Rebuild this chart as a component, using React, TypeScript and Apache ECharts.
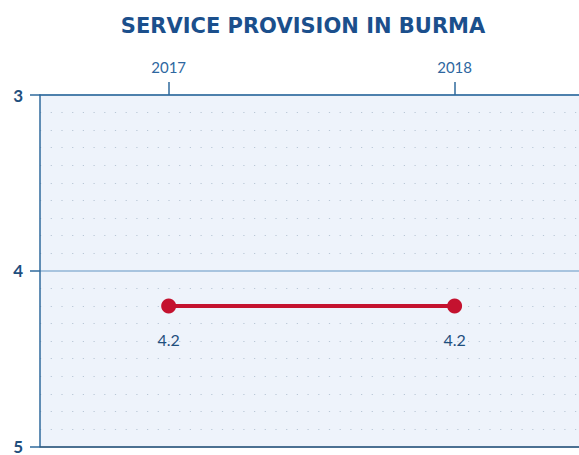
import React, { useEffect, useRef } from "react";
import * as echarts from "echarts";

const years: number[] = [2017, 2018];
const values: number[] = [4.2, 4.2];
const yTicks: number[] = [3, 4, 5];
const title = "SERVICE PROVISION IN BURMA";

const X_MIN = 2016.55;
const X_MAX = 2018.435;

export default function App() {
  const ref = useRef<HTMLDivElement>(null);
  useEffect(() => {
    document.body.style.margin = "0";
    const chart = echarts.init(ref.current!, undefined, { renderer: "svg" });
    chart.setOption({
      animation: false,
      backgroundColor: "#ffffff",
      title: {
        text: title,
        left: 298,
        textAlign: "center",
        top: 10,
        textStyle: { fontFamily: "DejaVu Sans", fontWeight: "bold", fontSize: 21, color: "#1b4f8c" },
      },
      grid: {
        left: 40,
        right: -3,
        top: 95,
        bottom: 5,
        show: true,
        backgroundColor: "#eef3fb",
        borderWidth: 0,
      },
      xAxis: [
        {
          type: "value",
          position: "top",
          min: X_MIN,
          max: X_MAX,
          axisLine: { show: true, lineStyle: { color: "#2f6a9c", width: 1.5 } },
          axisTick: { show: true, customValues: years, length: 13, lineStyle: { color: "#2f6a9c", width: 1.5 } },
          axisLabel: {
            customValues: years,
            formatter: (v: number) => String(Math.round(v)),
            fontFamily: "Lato",
            fontSize: 15,
            color: "#2e67a0",
            margin: 21,
          },
          splitLine: { show: false },
        },
        {
          type: "value",
          position: "bottom",
          min: X_MIN,
          max: X_MAX,
          axisLine: { show: true, lineStyle: { color: "#2c5478", width: 1.5 } },
          axisTick: { show: false },
          axisLabel: { show: false },
          splitLine: { show: false },
        },
      ],
      yAxis: {
        type: "value",
        inverse: true,
        min: yTicks[0],
        max: yTicks[yTicks.length - 1],
        interval: 1,
        axisLine: { show: true, lineStyle: { color: "#2f6a9c", width: 1.5 } },
        axisTick: { show: true, length: 10, lineStyle: { color: "#2f6a9c", width: 1.5 } },
        axisLabel: { fontFamily: "Lato", fontWeight: "bold", fontSize: 17, color: "#1f4f7e", margin: 17 },
        splitLine: { show: true, lineStyle: { color: "#a8c4df", width: 2 } },
        minorTick: { show: false, splitNumber: 10 },
        minorSplitLine: { show: true, lineStyle: { color: "#b9c7d6", width: 1.2, type: [1.2, 9.5] } },
      },
      series: [
        {
          type: "line",
          xAxisIndex: 0,
          data: years.map((y, i) => [y, values[i]]),
          symbol: "circle",
          symbolSize: 15,
          lineStyle: { color: "#c4122f", width: 4 },
          itemStyle: { color: "#c4122f" },
          label: {
            show: true,
            position: "bottom",
            distance: 18,
            formatter: (p: any) => String(p.value[1]),
            fontFamily: "Lato",
            fontSize: 16,
            color: "#1f4f7e",
          },
        },
      ],
    });
    return () => chart.dispose();
  }, []);
  return <div ref={ref} style={{ width: 579, height: 455 }} />;
}
